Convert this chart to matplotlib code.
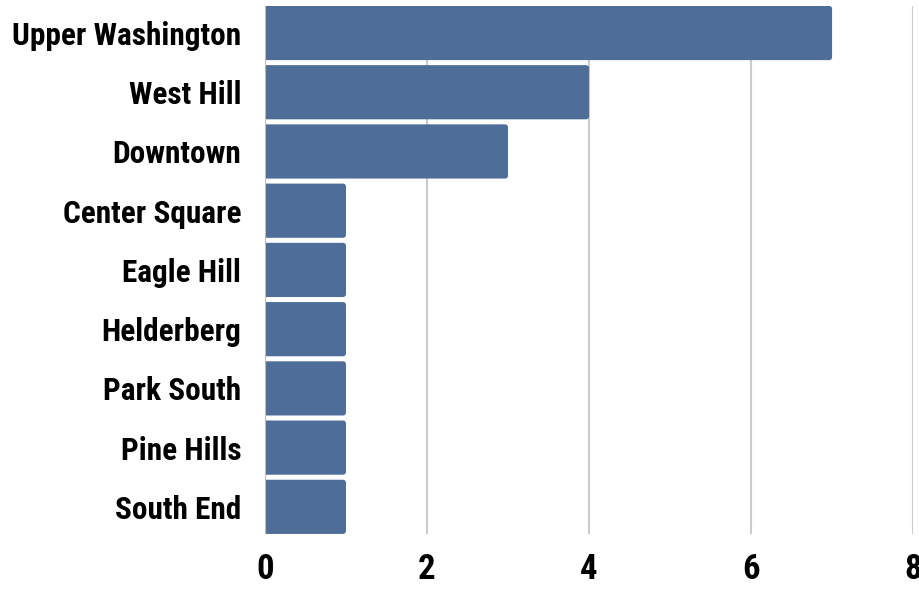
import matplotlib.pyplot as plt
from matplotlib.patches import FancyBboxPatch
from matplotlib import font_manager as fm
import numpy as np

neighborhoods = ['Upper Washington', 'West Hill', 'Downtown', 'Center Square',
                 'Eagle Hill', 'Helderberg', 'Park South', 'Pine Hills', 'South End']
counts = [7, 4, 3, 1, 1, 1, 1, 1, 1]
x_ticks = [0, 2, 4, 6, 8]

# pick a narrow bold face if one is installed
font_name = 'Roboto'
stretch = 'normal'
for cand, st in [('Roboto Condensed', 'normal'), ('Liberation Sans Narrow', 'normal'),
                 ('DejaVu Sans Condensed', 'normal'), ('Open Sans Condensed', 'normal'),
                 ('DejaVu Sans', 'condensed')]:
    try:
        path = fm.findfont(fm.FontProperties(family=cand, weight='bold', stretch=st),
                           fallback_to_default=False)
        if st == 'condensed' and 'Condensed' not in path:
            continue
        font_name, stretch = cand, st
        break
    except ValueError:
        continue

plt.rcParams['font.family'] = [font_name, 'DejaVu Sans']
plt.rcParams['font.stretch'] = stretch

BAR_COLOR = '#4E6D99'
GRID_COLOR = '#CBCBCB'
BAR_H = 0.915

fig = plt.figure(figsize=(9.2, 5.9), dpi=100)
ax = fig.add_axes([0.288, 0.095, 0.7045, 0.895])

y = np.arange(len(neighborhoods))
bars = ax.barh(y, counts, height=BAR_H, color=BAR_COLOR, zorder=3)

# swap the plain rectangles for slightly rounded ones
for rect in bars:
    bx, by = rect.get_x(), rect.get_y()
    bw, bh = rect.get_width(), rect.get_height()
    rect.set_visible(False)
    p = FancyBboxPatch((bx - 0.1, by), bw + 0.1, bh,
                       boxstyle='round,pad=0,rounding_size=0.04',
                       mutation_aspect=1.35,
                       facecolor=BAR_COLOR, edgecolor='none', zorder=3)
    ax.add_patch(p)

ax.set_xlim(0, 8)
ax.set_ylim(len(neighborhoods) - 1 + BAR_H / 2, -BAR_H / 2)
ax.set_xticks(x_ticks)
ax.set_xticklabels([str(t) for t in x_ticks], fontsize=25, fontweight='bold')
ax.set_yticks(y)
yt = ax.set_yticklabels(neighborhoods, fontsize=21, fontweight='bold')
ax.tick_params(axis='both', length=0)
ax.tick_params(axis='x', pad=14)
ax.tick_params(axis='y', pad=17)

# fit the label size so the longest name spans ~229 px like the reference
fig.canvas.draw()
r = fig.canvas.get_renderer()
w = max(t.get_window_extent(r).width for t in yt)
size = min(21 * 229 / w, 24)
for t in yt:
    t.set_fontsize(size)

ax.xaxis.grid(True, color=GRID_COLOR, linewidth=1.5, zorder=0)
ax.set_axisbelow(True)
for s in ax.spines.values():
    s.set_visible(False)
ax.axvline(0, color='#BDBDBD', linewidth=1.5, zorder=4)

fig.savefig('out.png', dpi=100)
